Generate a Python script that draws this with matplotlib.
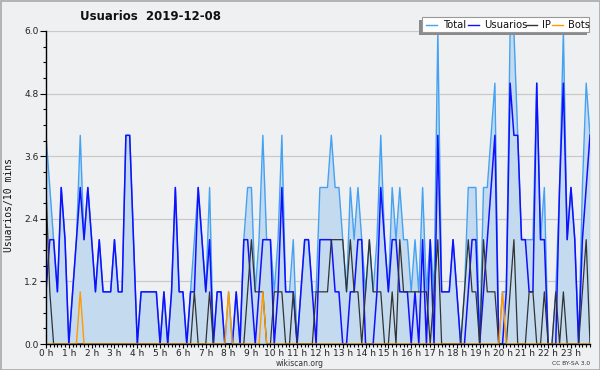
import matplotlib
matplotlib.use("Agg")
import matplotlib.pyplot as plt
from matplotlib.patches import Rectangle
from matplotlib.lines import Line2D
import numpy as np

# 10-minute bins over 2019-12-08 (144 values)
usuarios = [1, 2, 2, 1, 3, 2, 0, 1, 2, 3,
            2, 3, 2, 1, 2, 1, 1, 1, 2, 1,
            1, 4, 4, 2, 0, 1, 1, 1, 1, 1,
            0, 1, 0, 1, 3, 1, 1, 0, 1, 1,
            3, 2, 1, 2, 0, 1, 1, 0, 0, 0,
            1, 0, 2, 2, 1, 0, 1, 2, 2, 2,
            0, 1, 3, 1, 1, 1, 0, 1, 2, 2,
            1, 0, 2, 2, 2, 2, 1, 1, 0, 0,
            1, 1, 2, 2, 0, 0, 0, 1, 3, 2,
            1, 2, 2, 1, 1, 1, 0, 1, 0, 2,
            0, 2, 0, 4, 1, 1, 1, 2, 1, 0,
            0, 1, 2, 2, 0, 1, 2, 3, 4, 0,
            0, 1, 5, 4, 4, 2, 2, 1, 1, 5,
            2, 2, 0, 0, 0, 3, 5, 2, 3, 2,
            0, 2, 3, 4]

ip = [3, 1, 0, 0, 0, 0, 0, 0, 0, 0,
      0, 0, 0, 0, 0, 0, 0, 0, 0, 0,
      0, 0, 0, 0, 0, 0, 0, 0, 0, 0,
      0, 0, 0, 0, 0, 0, 0, 0, 0, 1,
      0, 0, 0, 1, 0, 0, 0, 0, 0, 0,
      0, 0, 0, 1, 2, 1, 1, 1, 0, 0,
      1, 1, 1, 0, 0, 1, 0, 0, 0, 0,
      0, 1, 1, 1, 1, 2, 2, 2, 2, 1,
      2, 1, 1, 0, 1, 2, 1, 1, 1, 0,
      0, 1, 0, 2, 1, 1, 1, 1, 1, 1,
      1, 0, 1, 2, 0, 0, 0, 0, 0, 0,
      1, 2, 1, 1, 0, 2, 1, 1, 1, 0,
      0, 0, 1, 2, 0, 0, 0, 1, 1, 0,
      0, 1, 0, 0, 1, 0, 1, 0, 0, 0,
      0, 1, 2, 0]

bots = [0, 0, 0, 0, 0, 0, 0, 0, 0, 1,
        0, 0, 0, 0, 0, 0, 0, 0, 0, 0,
        0, 0, 0, 0, 0, 0, 0, 0, 0, 0,
        0, 0, 0, 0, 0, 0, 0, 0, 0, 0,
        0, 0, 0, 0, 0, 0, 0, 0, 1, 0,
        0, 0, 0, 0, 0, 0, 0, 1, 0, 0,
        0, 0, 0, 0, 0, 0, 0, 0, 0, 0,
        0, 0, 0, 0, 0, 0, 0, 0, 0, 0,
        0, 0, 0, 0, 0, 0, 0, 0, 0, 0,
        0, 0, 0, 0, 0, 0, 0, 0, 0, 0,
        0, 0, 0, 0, 0, 0, 0, 0, 0, 0,
        0, 0, 0, 0, 0, 0, 0, 0, 0, 0,
        1, 0, 0, 0, 0, 0, 0, 0, 0, 0,
        0, 0, 0, 0, 0, 0, 0, 0, 0, 0,
        0, 0, 0, 0]

total = [4, 3, 2, 1, 3, 2, 0, 1, 2, 4,
         2, 3, 2, 1, 2, 1, 1, 1, 2, 1,
         1, 4, 4, 2, 0, 1, 1, 1, 1, 1,
         0, 1, 0, 1, 3, 1, 1, 0, 1, 2,
         3, 2, 1, 3, 0, 1, 1, 0, 1, 0,
         1, 0, 2, 3, 3, 1, 2, 4, 2, 2,
         1, 2, 4, 1, 1, 2, 0, 1, 2, 2,
         1, 1, 3, 3, 3, 4, 3, 3, 2, 1,
         3, 2, 3, 2, 1, 2, 1, 2, 4, 2,
         1, 3, 2, 3, 2, 2, 1, 2, 1, 3,
         1, 2, 1, 6, 1, 1, 1, 2, 1, 0,
         1, 3, 3, 3, 0, 3, 3, 4, 5, 0,
         1, 1, 6, 6, 4, 2, 2, 2, 2, 5,
         2, 3, 0, 0, 1, 3, 6, 2, 3, 2,
         0, 3, 5, 4]

hour_labels = ["%d h" % h for h in range(24)]
legend_names = ["Total", "Usuarios", "IP", "Bots"]

c_total = "#45a2f2"
c_fill = "#c4daef"
c_users = "#1010ff"
c_ip = "#333333"
c_bots = "#ff9a00"
bg = "#eff0f1"

fig = plt.figure(figsize=(6, 3.7), dpi=100, facecolor=bg)
ax = fig.add_axes([46 / 600, 1 - 344 / 370, 544 / 600, 313 / 370])
ax.set_facecolor(bg)

x = np.arange(len(total))
ax.fill_between(x, total, 0, color=c_fill, lw=0, zorder=2)
ax.plot(x, total, color=c_total, lw=1.0, zorder=3)
ax.plot(x, usuarios, color=c_users, lw=1.1, zorder=4)
ax.plot(x, ip, color=c_ip, lw=0.9, zorder=5)
ax.plot(x, bots, color=c_bots, lw=1.0, zorder=6)

ax.set_xlim(0, 143)
ax.set_ylim(0, 6.0)
ax.set_xticks(np.arange(0, 144, 6))
ax.set_xticklabels(hour_labels)
ax.set_xticks(np.arange(0, 144, 1), minor=True)
ax.set_yticks(np.arange(0, 6.01, 1.2))
ax.set_yticklabels(["%.1f" % v for v in np.arange(0, 6.01, 1.2)])
ax.set_yticks(np.arange(0, 6.01, 0.3), minor=True)
ax.tick_params(axis="y", which="major", labelsize=6.5, length=4, width=0.8,
               labelcolor="#222222", pad=1.5)
ax.tick_params(axis="x", which="major", labelsize=6.5, length=3, width=0.8,
               labelcolor="#222222", pad=0.5)
ax.tick_params(axis="both", which="minor", length=2.5, width=0.8)
ax.grid(axis="y", which="major", color="#c9c9c9", lw=0.9, zorder=1)
ax.set_axisbelow(True)
for s in ["top", "right"]:
    ax.spines[s].set_visible(False)
for s in ["left", "bottom"]:
    ax.spines[s].set_linewidth(1.0)
    ax.spines[s].set_zorder(7)

# overlay in pixel coordinates for title, legend and notes
ov = fig.add_axes([0, 0, 1, 1], facecolor="none")
ov.set_xlim(0, 600)
ov.set_ylim(370, 0)
ov.axis("off")

ov.add_patch(Rectangle((0.5, 0.5), 599, 369, fill=False, ec="#a8a8a8", lw=1.2))
ov.text(151, 16, "Usuarios  2019-12-08", ha="center", va="center",
        fontsize=8.5, fontweight="bold", color="#111111")
ov.text(9, 205, "Usuarios/10 mins", rotation=90, ha="center", va="center",
        fontsize=7, family="DejaVu Sans Mono", color="#111111")
ov.text(300, 363.5, "wikiscan.org", ha="center", va="center", fontsize=5.5, color="#333333")
ov.text(590, 363.5, "CC BY-SA 3.0", ha="right", va="center", fontsize=4.3, color="#333333")

# legend box with shadow
ov.add_patch(Rectangle((419, 20), 168, 15, fc="#8a8a8a", ec="none", zorder=8))
ov.add_patch(Rectangle((422, 17), 167, 15, fc="white", ec="#999999", lw=0.8, zorder=9))
leg_colors = [c_total, c_users, c_ip, c_bots]
leg_line_x = [426, 468, 526, 552]
leg_text_x = [443, 484, 542, 568]
for name, col, lx, tx in zip(legend_names, leg_colors, leg_line_x, leg_text_x):
    ov.add_line(Line2D([lx, lx + 11], [24.5, 24.5], color=col, lw=1.0, zorder=10))
    ov.text(tx, 24.5, name, ha="left", va="center", fontsize=7.2, color="#111111", zorder=10)

fig.savefig("out.png", dpi=100, facecolor=bg)
